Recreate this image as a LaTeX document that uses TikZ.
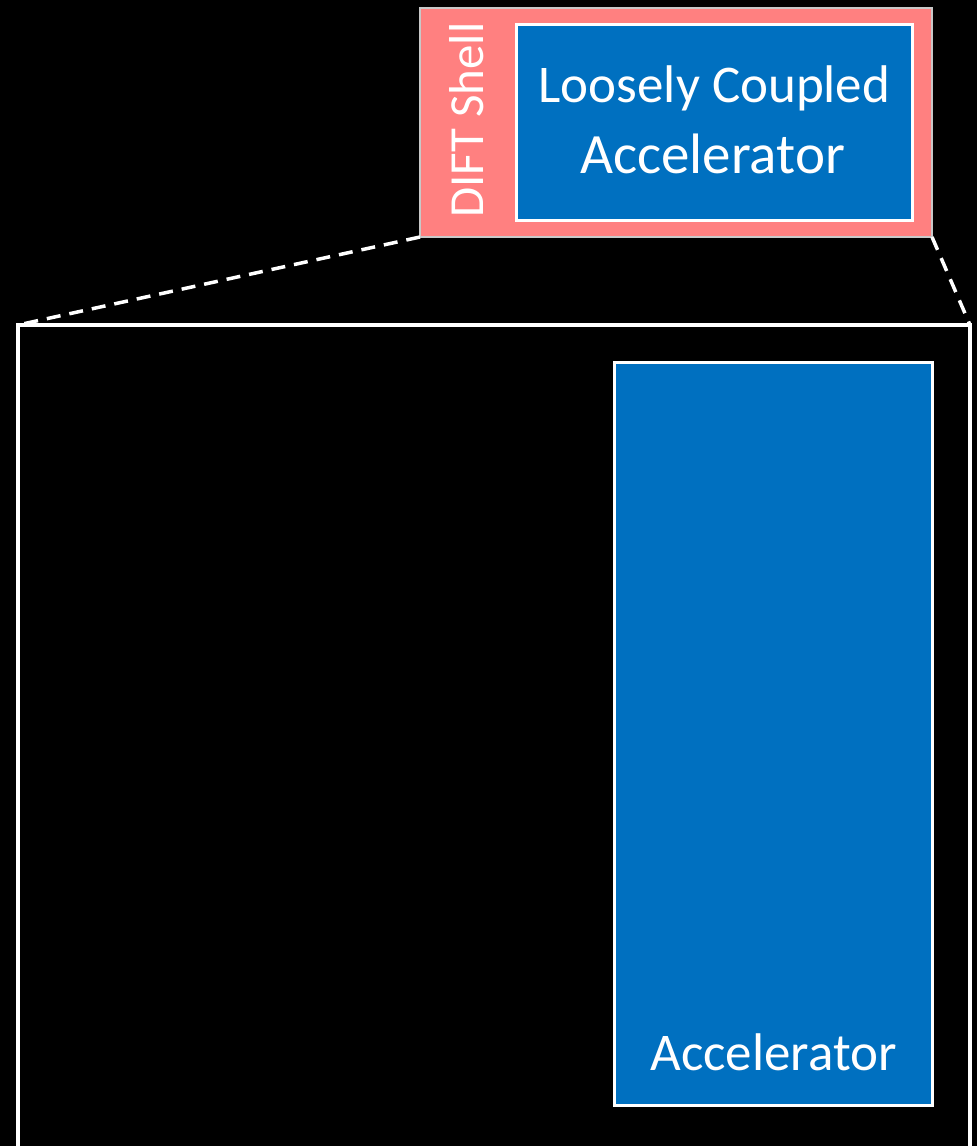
\documentclass[tikz,border=0pt]{standalone}
\usepackage{fontspec}
\setmainfont{Carlito}
\definecolor{shellred}{HTML}{FF8080}
\definecolor{accblue}{HTML}{0070C0}
\definecolor{shellgray}{HTML}{C8C8C8}
\begin{document}
\begin{tikzpicture}[x=1pt,y=-1pt,
  shellbox/.style={draw=shellgray,line width=2.5pt,fill=shellred},
  accbox/.style={draw=white,line width=3pt,fill=accblue},
  zoomframe/.style={draw=white,line width=3.5pt},
  zoomline/.style={draw=white,line width=3.5pt,dash pattern=on 14pt off 9pt},
  label/.style={text=white,font=\fontsize{53}{70}\selectfont,align=center,inner sep=0pt}]
  % page and background
  \fill[black] (0,0) rectangle (977,1146);
  \useasboundingbox (0,0) rectangle (977,1146);
  \clip (0,0) rectangle (977,1146);

  % DIFT shell wrapping the loosely coupled accelerator
  \draw[shellbox] (420,8) rectangle (932,237);
  \coordinate (shellBL) at (420,237);
  \coordinate (shellBR) at (932,237);
  \draw[accbox] (516,24) rectangle (912,220);
  \node[label,anchor=base] (lc1) at (714.5,102) {Loosely Coupled};
  \node[label,font=\fontsize{57}{70}\selectfont,anchor=base] (lc2) at (712.5,173) {Accelerator};
  \node[label,font=\fontsize{49}{60}\selectfont,rotate=90,anchor=base] (shell) at (483,120) {DIFT Shell};

  % enlarged view of the system
  \coordinate (frameTL) at (18,325);
  \coordinate (frameTR) at (970,325);
  \draw[zoomframe] (18,1170) -- (frameTL) -- (frameTR) -- (970,1170);
  \draw[zoomline] (shellBL) -- (frameTL);
  \draw[zoomline] (shellBR) -- (frameTR);

  % accelerator inside the system
  \draw[accbox] (614,362) rectangle (932,1105);
  \node[label,anchor=base] (acc) at (773.5,1070) {Accelerator};
\end{tikzpicture}
\end{document}
